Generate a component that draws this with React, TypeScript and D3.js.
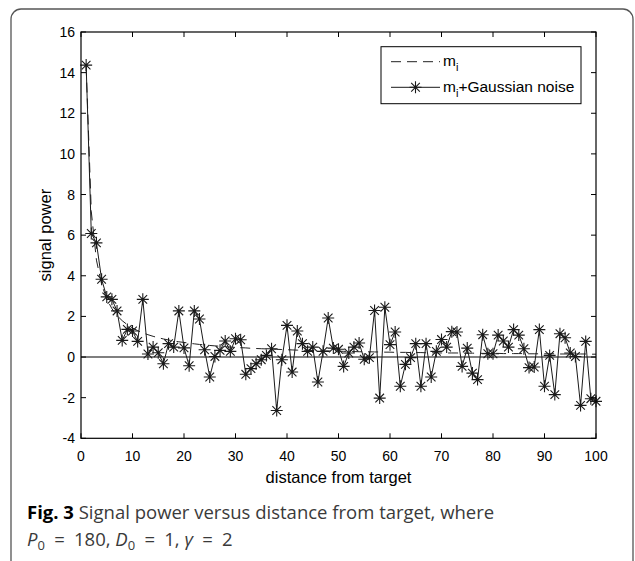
import React from "react";
import * as d3 from "d3";

const distances: number[] = d3.range(1, 101);

const meanPower: number[] = [
  14.3, 7.15, 4.77, 3.58, 2.86, 2.38, 2.04, 1.79, 1.59, 1.43,
  1.3, 1.19, 1.1, 1.02, 0.95, 0.89, 0.84, 0.79, 0.75, 0.72,
  0.68, 0.65, 0.62, 0.6, 0.57, 0.55, 0.53, 0.51, 0.49, 0.48,
  0.46, 0.45, 0.43, 0.42, 0.41, 0.4, 0.39, 0.38, 0.37, 0.36,
  0.35, 0.34, 0.33, 0.33, 0.32, 0.31, 0.3, 0.3, 0.29, 0.29,
  0.28, 0.28, 0.27, 0.26, 0.26, 0.26, 0.25, 0.25, 0.24, 0.24,
  0.23, 0.23, 0.23, 0.22, 0.22, 0.22, 0.21, 0.21, 0.21, 0.2,
  0.2, 0.2, 0.2, 0.19, 0.19, 0.19, 0.19, 0.18, 0.18, 0.18,
  0.18, 0.17, 0.17, 0.17, 0.17, 0.17, 0.16, 0.16, 0.16, 0.16,
  0.16, 0.16, 0.15, 0.15, 0.15, 0.15, 0.15, 0.15, 0.14, 0.14,
];

const noisyPower: number[] = [
  14.37, 6.08, 5.62, 3.83, 2.96, 2.84, 2.27, 0.82, 1.36, 1.28,
  0.77, 2.84, 0.15, 0.49, 0.21, -0.33, 0.66, 0.49, 2.27, 0.45,
  -0.43, 2.27, 1.87, 0.36, -0.98, 0.03, 0.33, 0.79, 0.28, 0.9,
  0.85, -0.85, -0.57, -0.33, -0.13, 0.08, 0.41, -2.63, -0.13, 1.56,
  -0.74, 1.28, 0.66, 0.28, 0.49, -1.23, 0.28, 1.92, 0.44, 0.38,
  -0.46, 0.2, 0.49, 0.69, -0.11, -0.03, 2.29, -2.02, 2.45, 0.61,
  1.23, -1.44, -0.36, -0.03, 0.66, -1.44, 0.66, -0.98, 0.28, 0.86,
  0.49, 1.25, 1.23, -0.46, 0.44, -0.79, -1.11, 1.1, 0.16, 0.16,
  1.08, 0.79, 0.49, 1.35, 1.08, 0.41, -0.52, -0.49, 1.35, -1.44,
  0.08, -1.85, 1.15, 0.95, 0.2, 0.03, -2.38, 0.77, -2.05, -2.18,
];

const xTicks: number[] = [0, 10, 20, 30, 40, 50, 60, 70, 80, 90, 100];
const yTicks: number[] = [-4, -2, 0, 2, 4, 6, 8, 10, 12, 14, 16];

const W = 635;
const H = 561;
const left = 81;
const right = 596;
const top = 32;
const bottom = 438.3;

const axisFont = "'Liberation Sans', Arial, Helvetica, sans-serif";
const captionFont = "'Open Sans', 'Noto Sans', sans-serif";
const EN = "\u2002";

function starPath(cx: number, cy: number, r: number): string {
  const d = r * 0.72;
  return (
    `M${cx - r},${cy}L${cx + r},${cy}` +
    `M${cx},${cy - r}L${cx},${cy + r}` +
    `M${cx - d},${cy - d}L${cx + d},${cy + d}` +
    `M${cx - d},${cy + d}L${cx + d},${cy - d}`
  );
}

export default function App() {
  const x = d3.scaleLinear().domain([0, 100]).range([left, right]);
  const y = d3.scaleLinear().domain([-4, 16]).range([bottom, top]);

  const line = d3
    .line<[number, number]>()
    .x((d) => x(d[0]))
    .y((d) => y(d[1]));

  const meanData: [number, number][] = distances.map((d, i) => [d, meanPower[i]]);
  const noiseData: [number, number][] = distances.map((d, i) => [d, noisyPower[i]]);

  const tickLen = 5;
  const lgX = 381;
  const lgY = 46.7;
  const lgW = 200;
  const lgH = 57;

  return (
    <svg
      width={W}
      height={H}
      style={{ position: "absolute", left: 0, top: 0, background: "#fff" }}
    >
      {/* outer rounded frame */}
      <rect
        x={11}
        y={9}
        width={622}
        height={600}
        rx={10}
        ry={10}
        fill="none"
        stroke="#555"
        strokeWidth={1.3}
      />

      {/* zero line */}
      <line
        x1={x(0)}
        x2={x(100)}
        y1={y(0)}
        y2={y(0)}
        stroke="#555"
        strokeWidth={1.5}
      />

      {/* dashed mean line */}
      <path
        d={line(meanData) || ""}
        fill="none"
        stroke="#222"
        strokeWidth={1}
        strokeDasharray="10,6"
      />

      {/* noisy line */}
      <path d={line(noiseData) || ""} fill="none" stroke="#1a1a1a" strokeWidth={1} />
      {noiseData.map((d, i) => (
        <path
          key={i}
          d={starPath(x(d[0]), y(d[1]), 6)}
          stroke="#1a1a1a"
          strokeWidth={1.1}
          fill="none"
        />
      ))}

      {/* axes box */}
      <rect
        x={left}
        y={top}
        width={right - left}
        height={bottom - top}
        fill="none"
        stroke="#000"
        strokeWidth={1.2}
      />

      {/* x ticks */}
      {xTicks.map((t) => (
        <g key={"x" + t}>
          <line x1={x(t)} x2={x(t)} y1={bottom} y2={bottom - tickLen} stroke="#000" strokeWidth={1} />
          <line x1={x(t)} x2={x(t)} y1={top} y2={top + tickLen} stroke="#000" strokeWidth={1} />
          <text
            x={x(t)}
            y={460.5}
            textAnchor="middle"
            fontFamily={axisFont}
            fontSize={14}
            fill="#000"
          >
            {t}
          </text>
        </g>
      ))}

      {/* y ticks */}
      {yTicks.map((t) => (
        <g key={"y" + t}>
          <line x1={left} x2={left + tickLen} y1={y(t)} y2={y(t)} stroke="#000" strokeWidth={1} />
          <line x1={right} x2={right - tickLen} y1={y(t)} y2={y(t)} stroke="#000" strokeWidth={1} />
          <text
            x={75}
            y={y(t) + 5}
            textAnchor="end"
            fontFamily={axisFont}
            fontSize={14}
            fill="#000"
          >
            {t}
          </text>
        </g>
      ))}

      {/* axis labels */}
      <text
        x={(left + right) / 2}
        y={482.5}
        textAnchor="middle"
        fontFamily={axisFont}
        fontSize={16.5}
        fill="#000"
      >
        distance from target
      </text>
      <text
        transform={`translate(50.5, ${(top + bottom) / 2}) rotate(-90)`}
        textAnchor="middle"
        fontFamily={axisFont}
        fontSize={16.5}
        fill="#000"
      >
        signal power
      </text>

      {/* legend */}
      <rect x={lgX} y={lgY} width={lgW} height={lgH} fill="#fff" stroke="#000" strokeWidth={1} />
      <line
        x1={391}
        x2={440}
        y1={61.7}
        y2={61.7}
        stroke="#222"
        strokeWidth={1}
        strokeDasharray="10,6"
      />
      <text x={443} y={66} fontFamily={axisFont} fontSize={15.5} fill="#000">
        m<tspan dy={5} fontSize={11}>i</tspan>
      </text>
      <line x1={391} x2={440} y1={87.3} y2={87.3} stroke="#1a1a1a" strokeWidth={1} />
      <path d={starPath(415.5, 87.3, 6)} stroke="#1a1a1a" strokeWidth={1.1} fill="none" />
      <text x={443} y={91.5} fontFamily={axisFont} fontSize={15.5} fill="#000">
        m<tspan dy={5} fontSize={11}>i</tspan>
        <tspan dy={-5}>+Gaussian noise</tspan>
      </text>

      {/* caption */}
      <text x={27} y={519} fontFamily={captionFont} fontSize={18.5} fill="#3a3a3a">
        <tspan fontWeight="bold" fill="#000">Fig. 3</tspan>
        <tspan> Signal power versus distance from target, where</tspan>
      </text>
      <text x={27} y={546} fontFamily={captionFont} fontSize={18.5} fill="#3a3a3a">
        <tspan fontStyle="italic">P</tspan>
        <tspan dy={4} fontSize={13}>0</tspan>
        <tspan dy={-4}>{`${EN}=${EN}180, `}</tspan>
        <tspan fontStyle="italic">D</tspan>
        <tspan dy={4} fontSize={13}>0</tspan>
        <tspan dy={-4}>{`${EN}=${EN}1, `}</tspan>
        <tspan fontStyle="italic">γ</tspan>
        <tspan>{`${EN}=${EN}2`}</tspan>
      </text>
    </svg>
  );
}
